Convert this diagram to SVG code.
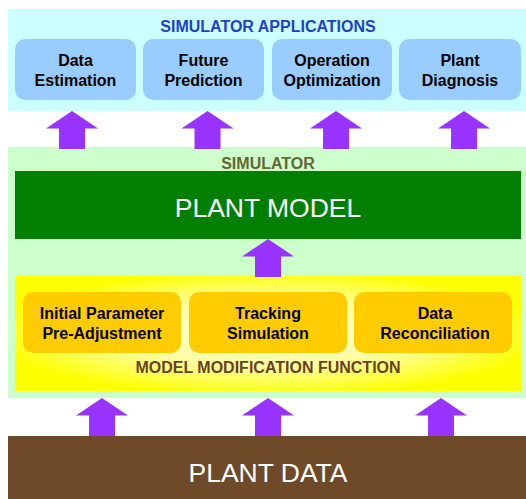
<svg xmlns="http://www.w3.org/2000/svg" width="526" height="499" viewBox="0 0 526 499">
  <defs>
    <radialGradient id="mmfGlow" cx="50%" cy="50%" r="55%">
      <stop offset="0" stop-color="#ffffe8"/>
      <stop offset="0.55" stop-color="#ffff9a"/>
      <stop offset="1" stop-color="#ffff00"/>
    </radialGradient>
    <!-- block arrow pointing up, origin at tip centre -->
    <path id="upArrow" d="M0 0 L26 17.5 L13 17.5 L13 38 L-13 38 L-13 17.5 L-26 17.5 Z"/>
  </defs>
  <style>
    .panel-app { fill: #ccffff; }
    .panel-sim { fill: #ccffcc; }
    .app { fill: #99ccff; }
    .mod { fill: #ffcc00; }
    .arrow { fill: #9933ff; }
    text { font-family: "Liberation Sans", Arial, sans-serif; text-anchor: middle; }
    .lbl { font-size: 16px; font-weight: bold; fill: #000; }
    .hdr { font-size: 16px; font-weight: bold; }
    .big { font-size: 26.5px; fill: #ffffff; }
  </style>

  <rect width="526" height="499" fill="#ffffff"/>

  <!-- Simulator applications panel -->
  <g id="applications">
    <rect class="panel-app" x="8" y="9" width="518" height="102"/>
    <text class="hdr" x="268" y="32" fill="#1f3fcc">SIMULATOR APPLICATIONS</text>
  </g>
  <g id="data-estimation">
    <rect class="app" x="15" y="39" width="121" height="61" rx="10"/>
    <text class="lbl" x="75.5" y="66">Data</text>
    <text class="lbl" x="75.5" y="86">Estimation</text>
  </g>
  <g id="future-prediction">
    <rect class="app" x="143" y="39" width="121" height="61" rx="10"/>
    <text class="lbl" x="203.5" y="66">Future</text>
    <text class="lbl" x="203.5" y="86">Prediction</text>
  </g>
  <g id="operation-optimization">
    <rect class="app" x="272" y="39" width="120" height="61" rx="10"/>
    <text class="lbl" x="332" y="66">Operation</text>
    <text class="lbl" x="332" y="86">Optimization</text>
  </g>
  <g id="plant-diagnosis">
    <rect class="app" x="399" y="39" width="122" height="61" rx="10"/>
    <text class="lbl" x="460" y="66">Plant</text>
    <text class="lbl" x="460" y="86">Diagnosis</text>
  </g>

  <!-- Simulator panel -->
  <g id="simulator">
    <rect class="panel-sim" x="8" y="147" width="518" height="251"/>
    <text class="hdr" x="268" y="169" fill="#666633">SIMULATOR</text>
  </g>
  <g id="plant-model">
    <rect x="15" y="171" width="506" height="68" fill="#007f00"/>
    <text class="big" x="268" y="217">PLANT MODEL</text>
  </g>

  <!-- Model modification function -->
  <g id="model-modification">
    <rect x="15" y="276" width="506" height="115" fill="url(#mmfGlow)"/>
    <text class="hdr" x="268" y="373" fill="#6b3f1f">MODEL MODIFICATION FUNCTION</text>
  </g>
  <g id="initial-parameter">
    <rect class="mod" x="23" y="292" width="158" height="61" rx="10"/>
    <text class="lbl" x="102" y="319">Initial Parameter</text>
    <text class="lbl" x="102" y="339">Pre-Adjustment</text>
  </g>
  <g id="tracking-simulation">
    <rect class="mod" x="189" y="292" width="158" height="61" rx="10"/>
    <text class="lbl" x="268" y="319">Tracking</text>
    <text class="lbl" x="268" y="339">Simulation</text>
  </g>
  <g id="data-reconciliation">
    <rect class="mod" x="354" y="292" width="158" height="61" rx="10"/>
    <text class="lbl" x="435" y="319">Data</text>
    <text class="lbl" x="435" y="339">Reconciliation</text>
  </g>

  <!-- Plant data -->
  <g id="plant-data">
    <rect x="8" y="436" width="518" height="63" fill="#6e4a28"/>
    <text class="big" x="268" y="482">PLANT DATA</text>
  </g>

  <!-- Connectors: block arrows -->
  <g id="connectors" class="arrow">
    <use href="#upArrow" x="72" y="111"/>
    <use href="#upArrow" x="207.5" y="111"/>
    <use href="#upArrow" x="336" y="111"/>
    <use href="#upArrow" x="464" y="111"/>
    <use href="#upArrow" x="268" y="239"/>
    <use href="#upArrow" x="102" y="398"/>
    <use href="#upArrow" x="268" y="398"/>
    <use href="#upArrow" x="441" y="398"/>
  </g>
</svg>
